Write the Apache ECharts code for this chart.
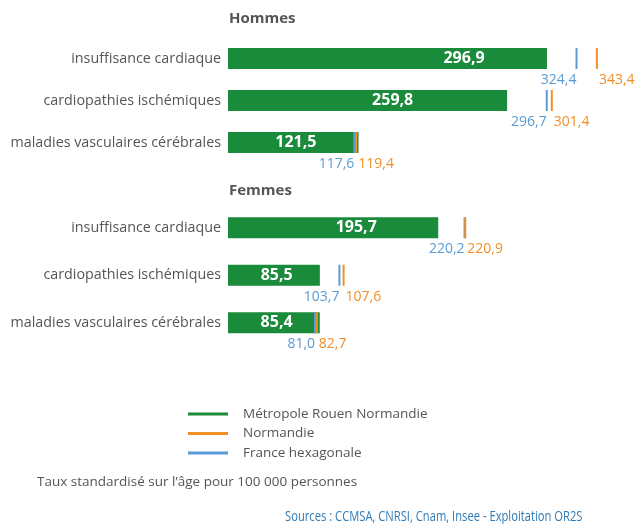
<!DOCTYPE html>
<html>
<head>
<meta charset="utf-8">
<script src="https://cdn.jsdelivr.net/npm/echarts@6/dist/echarts.min.js"></script>
<style>
html,body{margin:0;padding:0;background:#fff;}
#chart{width:635px;height:524px;}
</style>
</head>
<body>
<div id="chart"></div>
<script>
// ---- data ----
const categories = ['insuffisance cardiaque', 'cardiopathies ischémiques', 'maladies vasculaires cérébrales'];
const groupTitles = ['Hommes', 'Femmes'];
const seriesNames = ['Métropole Rouen Normandie', 'Normandie', 'France hexagonale'];
const hommesMetropole = [296.9, 259.8, 121.5];
const hommesNormandie = [343.4, 301.4, 119.4];
const hommesFrance = [324.4, 296.7, 117.6];
const femmesMetropole = [195.7, 85.5, 85.4];
const femmesNormandie = [220.9, 107.6, 82.7];
const femmesFrance = [220.2, 103.7, 81.0];
const footnote = 'Taux standardisé sur l’âge pour 100 000 personnes';
const sources = 'Sources : CCMSA, CNRSI, Cnam, Insee - Exploitation OR2S';

// ---- styles ----
const FONT = 'Open Sans';
const GREEN = '#1a8a3b';
const ORANGE = '#f28f25';
const BLUE = '#5b9bd5';
const GREY = '#555555';
const valueLabelAnchor = [[0.74, 0.59, 0.52], [0.61, 0.53, 0.53]];

const fmt = v => v.toFixed(1).replace('.', ',');

const groupsData = [
  { met: hommesMetropole, nor: hommesNormandie, fra: hommesFrance },
  { met: femmesMetropole, nor: femmesNormandie, fra: femmesFrance }
];

const grids = [
  { left: 228, top: 37.5, width: 376, height: 126 },
  { left: 228, top: 204, width: 376, height: 142.5 }
];

const xAxes = grids.map((g, i) => ({
  type: 'value', gridIndex: i, min: 0, max: 350, show: false
}));
const yAxes = grids.map((g, i) => ({
  type: 'category', gridIndex: i, data: categories, inverse: true,
  axisLine: { show: false }, axisTick: { show: false }, splitLine: { show: false },
  axisLabel: { color: GREY, fontSize: 14.3, fontFamily: FONT, margin: 7 }
}));

const series = [];
groupsData.forEach((gd, i) => {
  series.push({
    name: seriesNames[0], type: 'bar', xAxisIndex: i, yAxisIndex: i,
    barWidth: 21, itemStyle: { color: GREEN },
    data: gd.met.map((v, k) => ({
      value: v,
      label: {
        show: true, position: [(valueLabelAnchor[i][k] * 100) + '%', '50%'],
        align: 'center', verticalAlign: 'middle',
        formatter: p => fmt(p.value), color: '#fff', fontWeight: 'bold',
        fontSize: 16, fontFamily: FONT
      }
    }))
  });
  series.push({
    name: seriesNames[2], type: 'scatter', xAxisIndex: i, yAxisIndex: i, z: 3,
    symbol: 'rect', symbolSize: [2, 21], itemStyle: { color: BLUE, opacity: 1 },
    data: gd.fra.map((v, k) => [v, k]),
    label: {
      show: true, position: 'bottom', distance: 4, align: 'right',
      formatter: p => fmt(p.value[0]), color: BLUE, fontSize: 14, fontFamily: FONT
    }
  });
  series.push({
    name: seriesNames[1], type: 'scatter', xAxisIndex: i, yAxisIndex: i, z: 3,
    symbol: 'rect', symbolSize: [2, 21], itemStyle: { color: ORANGE, opacity: 1 },
    data: gd.nor.map((v, k) => [v, k]),
    label: {
      show: true, position: 'bottom', distance: 4, align: 'left', padding: [0, 0, 0, 2],
      formatter: p => fmt(p.value[0]), color: ORANGE, fontSize: 14, fontFamily: FONT
    }
  });
});

const chart = echarts.init(document.getElementById('chart'), null, { renderer: 'canvas' });
chart.setOption({
  animation: false,
  backgroundColor: '#fff',
  title: [
    { text: groupTitles[0], left: 229, top: 11, padding: 0,
      textStyle: { fontSize: 15, fontWeight: 'bold', color: GREY, fontFamily: FONT } },
    { text: groupTitles[1], left: 229, top: 183, padding: 0,
      textStyle: { fontSize: 15, fontWeight: 'bold', color: GREY, fontFamily: FONT } }
  ],
  grid: grids,
  xAxis: xAxes,
  yAxis: yAxes,
  legend: {
    orient: 'vertical', left: 188, top: 407, padding: 0,
    itemWidth: 40, itemHeight: 3, itemGap: 5.5, selectedMode: false,
    textStyle: { fontSize: 13.5, color: GREY, fontFamily: FONT, padding: [0, 0, 0, 10] },
    data: [
      { name: seriesNames[0], icon: 'rect', itemStyle: { color: GREEN, opacity: 1 } },
      { name: seriesNames[1], icon: 'rect', itemStyle: { color: ORANGE, opacity: 1 } },
      { name: seriesNames[2], icon: 'rect', itemStyle: { color: BLUE, opacity: 1 } }
    ]
  },
  graphic: [
    { type: 'text', left: 37, top: 475,
      style: { text: footnote, fill: GREY, fontSize: 13.5, fontFamily: FONT } },
    { type: 'text', x: 285, y: 510, scaleX: 0.8,
      style: { text: sources, fill: '#2f7bb5', fontSize: 14, fontFamily: FONT } }
  ],
  series: series
});
</script>
</body>
</html>
